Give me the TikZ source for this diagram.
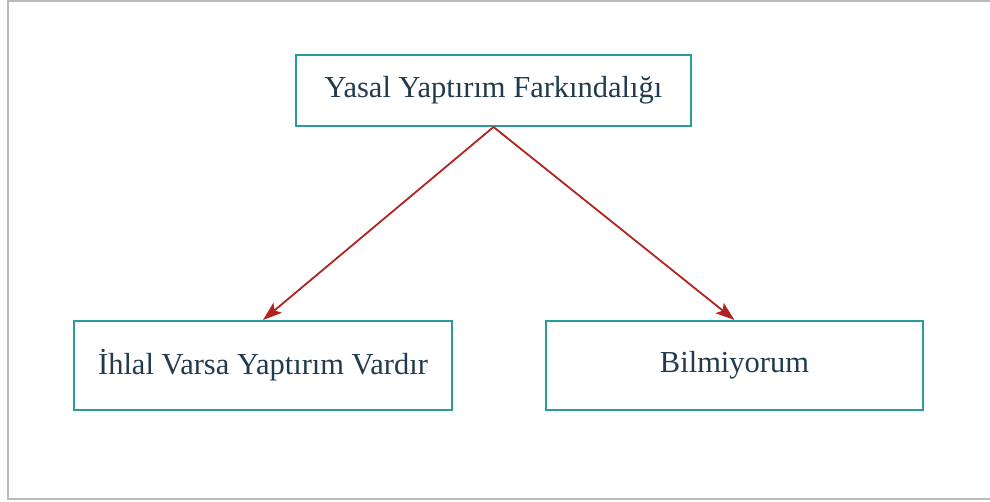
\documentclass[tikz,border=0pt]{standalone}
\usepackage{fontspec}
\setmainfont{Liberation Serif}
\usetikzlibrary{arrows.meta}
\definecolor{frame}{HTML}{BBBBBB}
\definecolor{teal1}{HTML}{2A9D9A}
\definecolor{txt}{HTML}{1F3B4D}
\definecolor{arr}{HTML}{B0231F}
\tikzset{
  box/.style={draw=teal1, line width=2pt, fill=white, text=txt, font=\fontsize{30.5}{34}\selectfont, inner sep=0pt, anchor=center},
  conn/.style={draw=arr, line width=1.8pt, -{Stealth[length=19pt,width=13pt,inset=4pt]}}
}
\begin{document}
\begin{tikzpicture}[x=1pt,y=-1pt]
\useasboundingbox (0,0) rectangle (990,502);
\draw[frame, line width=2pt] (1000,1.5) -- (7.5,1.5) -- (7.5,499) -- (1000,499);
\node[box, minimum width=395pt, minimum height=71pt] (top) at (493.5,90.5) {Yasal Yaptırım Farkındalığı};
\node[box, minimum width=378pt, minimum height=89pt] (left) at (263,365.5) {İhlal Varsa Yaptırım Vardır};
\node[box, minimum width=377pt, minimum height=89pt] (right) at (734.5,365.5) {Bilmiyorum};
\draw[conn] (top.south) -- (left.north);
\draw[conn] (top.south) -- (right.north);
\end{tikzpicture}
\end{document}
